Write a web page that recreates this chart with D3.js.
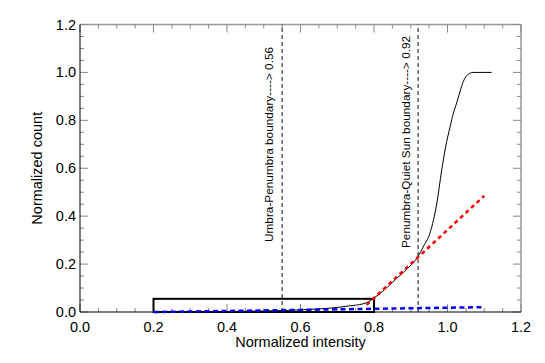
<!DOCTYPE html>
<html><head><meta charset="utf-8">
<script src="https://cdn.jsdelivr.net/npm/d3@7"></script>
<style>body{margin:0;background:#fff}svg{display:block}text{font-family:"Liberation Sans",Arial,sans-serif}</style>
</head><body>
<svg id="c" width="545" height="363"></svg>
<script>
const curveX = [0.2,0.3,0.4,0.5,0.55,0.6,0.65,0.7,0.735,0.77,0.79,0.8,0.83,0.86,0.89,0.92,0.935,0.952,0.962,0.971,0.984,0.995,1.007,1.016,1.025,1.034,1.043,1.052,1.06,1.07,1.12];
const curveY = [0,0.001,0.002,0.004,0.006,0.009,0.013,0.019,0.026,0.034,0.047,0.058,0.095,0.138,0.18,0.232,0.275,0.328,0.385,0.454,0.59,0.69,0.773,0.83,0.873,0.92,0.962,0.986,0.996,1.0,1.0];
const redX = [0.78,1.10];
const redY = [0.03,0.485];
const blueX = [0.2,1.10];
const blueY = [0.0,0.02];
const boxX = [0.2,0.8];
const boxY = [0.0,0.055];
const boundaries = [0.55,0.92];
const boundaryLabels = ["Umbra-Penumbra boundary----> 0.56","Penumbra-Quiet Sun boundary----> 0.92"];
const xTicks = [0.0,0.2,0.4,0.6,0.8,1.0,1.2];
const yTicks = [0.0,0.2,0.4,0.6,0.8,1.0,1.2];

const svg = d3.select("#c");
const m = {l:80,r:24,t:24.5,b:51};
const W = 545, H = 363;
const x = d3.scaleLinear().domain([0,1.2]).range([m.l, W-m.r]);
const y = d3.scaleLinear().domain([0,1.2]).range([H-m.b, m.t]);

const minor = d3.range(0,1.2001,0.05);
const g = svg.append("g");
g.append("line").attr("x1",x(0)).attr("x2",x(1.2)).attr("y1",y(1.2)).attr("y2",y(1.2)).attr("stroke","#999").attr("stroke-width",1.5);
g.append("line").attr("x1",x(1.2)).attr("x2",x(1.2)).attr("y1",y(0)).attr("y2",y(1.2)).attr("stroke","#999").attr("stroke-width",1.5);
minor.forEach((v,i)=>{
  const major = i%4===0;
  const L = major?8:4;
  g.append("line").attr("x1",x(v)).attr("x2",x(v)).attr("y1",y(0)).attr("y2",y(0)-L).attr("stroke","#888");
  g.append("line").attr("x1",x(v)).attr("x2",x(v)).attr("y1",y(1.2)).attr("y2",y(1.2)+L).attr("stroke","#888");
  g.append("line").attr("x1",x(0)).attr("x2",x(0)+L).attr("y1",y(v)).attr("y2",y(v)).attr("stroke","#888");
  g.append("line").attr("x1",x(1.2)).attr("x2",x(1.2)-L).attr("y1",y(v)).attr("y2",y(v)).attr("stroke","#888");
});
g.append("line").attr("x1",x(0)).attr("x2",x(1.2)).attr("y1",y(0)).attr("y2",y(0)).attr("stroke","#000");
g.append("line").attr("x1",x(0)).attr("x2",x(0)).attr("y1",y(0)).attr("y2",y(1.2)).attr("stroke","#000");

xTicks.forEach(v=>{
  svg.append("text").attr("x",x(v)).attr("y",y(0)+20).attr("text-anchor","middle").attr("font-size",14.5).text(v.toFixed(1));
});
yTicks.forEach(v=>{
  svg.append("text").attr("x",x(0)-4).attr("y",y(v)+5).attr("text-anchor","end").attr("font-size",14.5).text(v.toFixed(1));
});
svg.append("text").attr("x",(x(0)+x(1.2))/2).attr("y",347).attr("text-anchor","middle").attr("font-size",14.5).text("Normalized intensity");
svg.append("text").attr("transform",`translate(42,${(y(0)+y(1.2))/2}) rotate(-90)`).attr("text-anchor","middle").attr("font-size",14.5).text("Normalized count");

boundaries.forEach((b,i)=>{
  svg.append("line").attr("x1",x(b)).attr("x2",x(b)).attr("y1",y(0)).attr("y2",y(1.2)).attr("stroke","#333").attr("stroke-width",1.2).attr("stroke-dasharray","4,3");
});
svg.append("text").attr("transform",`translate(${x(boundaries[0])-9},242) rotate(-90)`).attr("font-size",11.8).text(boundaryLabels[0]);
svg.append("text").attr("transform",`translate(${x(boundaries[1])-8},248) rotate(-90)`).attr("font-size",11.8).text(boundaryLabels[1]);

svg.append("rect").attr("x",x(boxX[0])).attr("y",y(boxY[1])).attr("width",x(boxX[1])-x(boxX[0])).attr("height",y(boxY[0])-y(boxY[1])).attr("fill","none").attr("stroke","#000").attr("stroke-width",2);

const line = d3.line().x(d=>x(d[0])).y(d=>y(d[1])).curve(d3.curveMonotoneX);
svg.append("path").datum(curveX.map((v,i)=>[v,curveY[i]])).attr("d",line).attr("fill","none").attr("stroke","#000").attr("stroke-width",1);
const lin = d3.line().x(d=>x(d[0])).y(d=>y(d[1]));
svg.append("path").datum(redX.map((v,i)=>[v,redY[i]])).attr("d",lin).attr("fill","none").attr("stroke","#f00").attr("stroke-width",2.5).attr("stroke-dasharray","4,3.5");
svg.append("path").datum(blueX.map((v,i)=>[v,blueY[i]])).attr("d",lin).attr("fill","none").attr("stroke","#00f").attr("stroke-width",2.5).attr("stroke-dasharray","5,3.5");
</script>
</body></html>
